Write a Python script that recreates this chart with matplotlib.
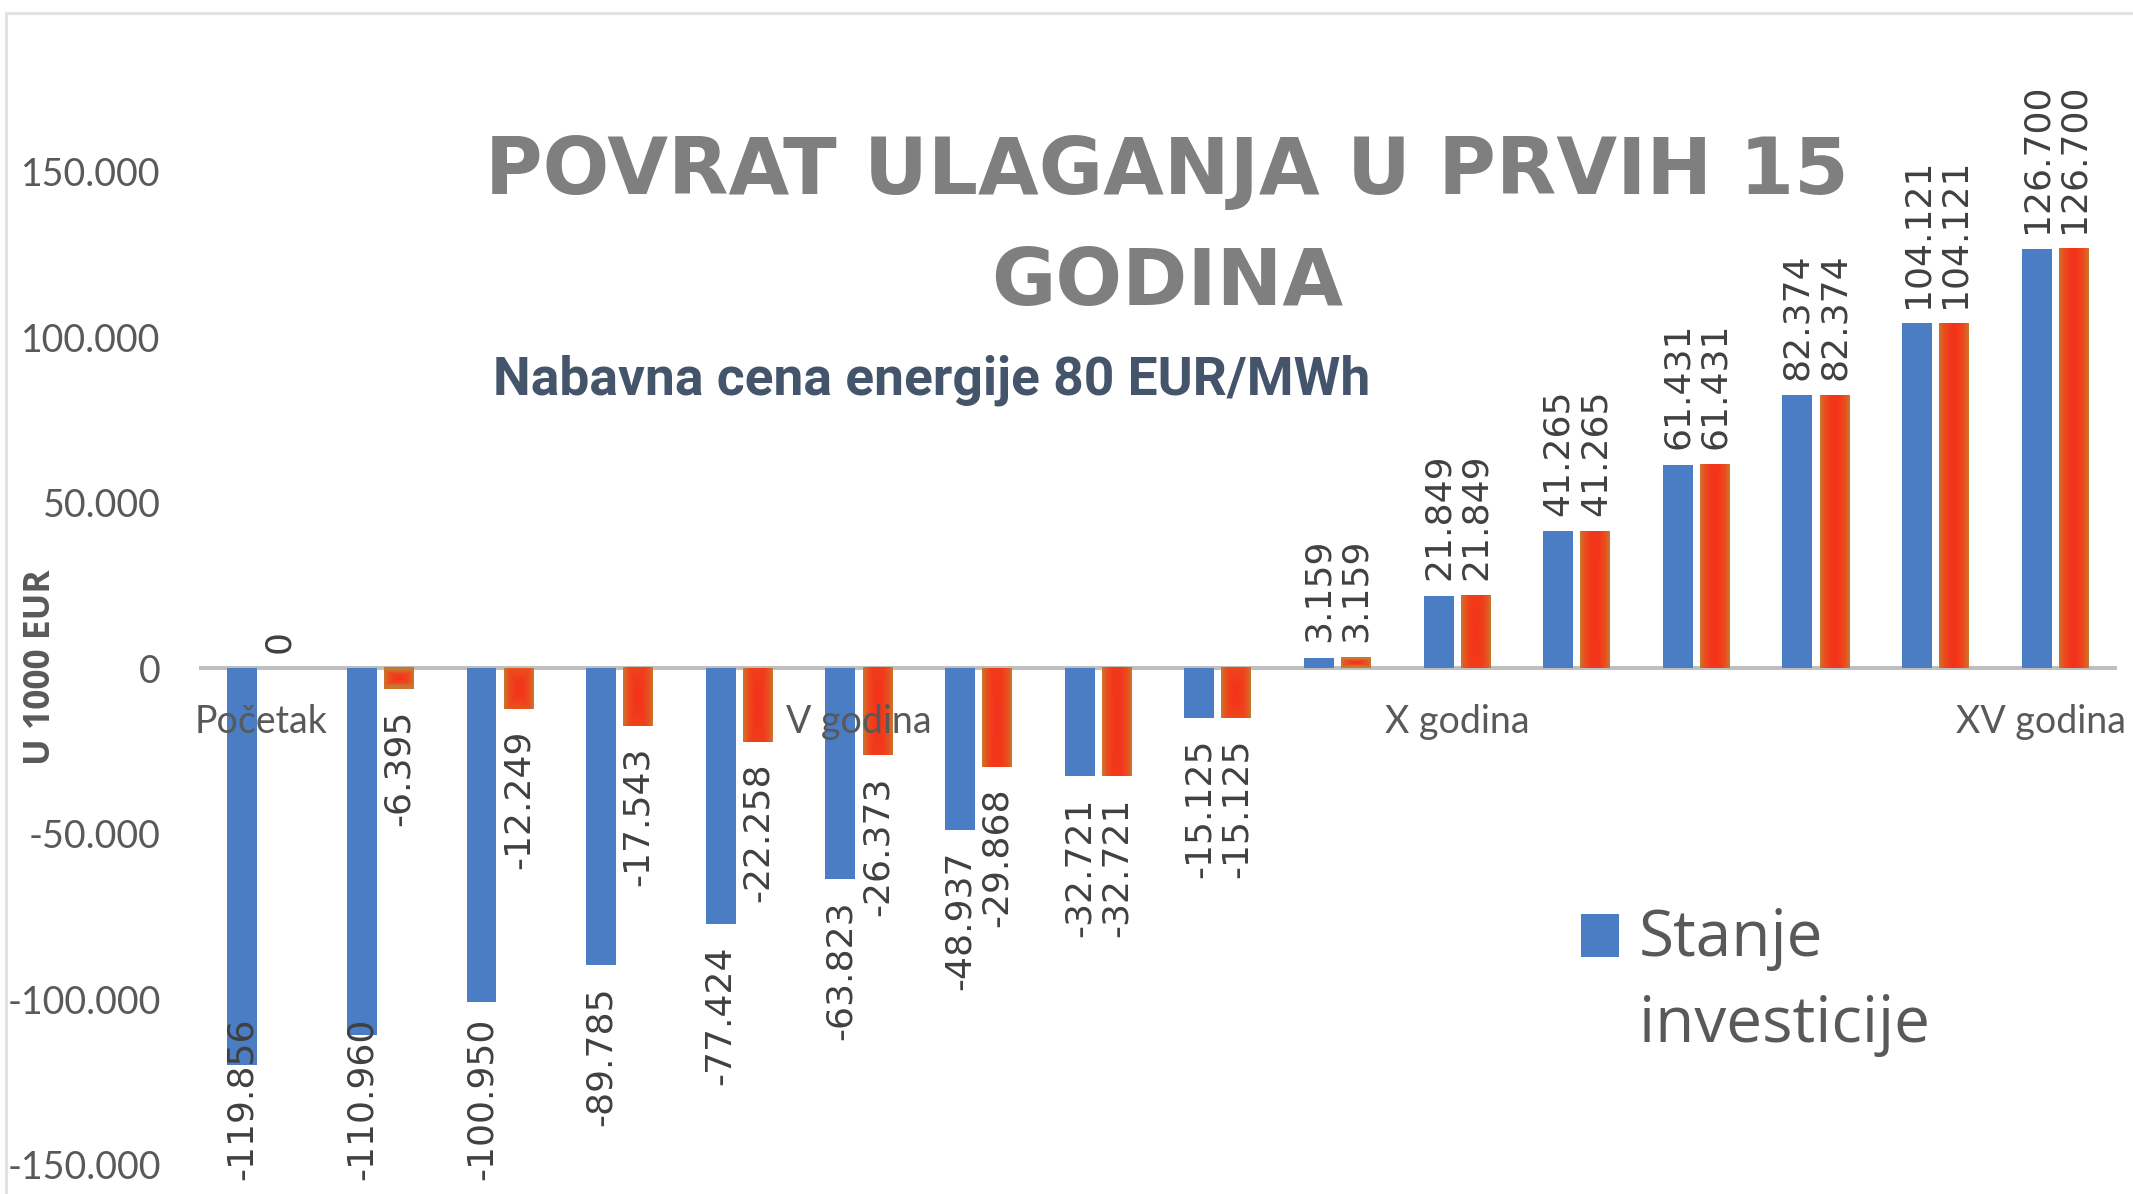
import numpy as np
import matplotlib
matplotlib.use("Agg")
import matplotlib.pyplot as plt
import matplotlib.patches as mpatches
from matplotlib.colors import LinearSegmentedColormap
from matplotlib.container import BarContainer
from matplotlib.legend_handler import HandlerPatch, update_from_first_child
from matplotlib.transforms import ScaledTranslation

# podaci (vrednosti u EUR, prikaz u hiljadama sa tackom)
kategorije = ["Početak", "I godina", "II godina", "III godina", "IV godina", "V godina",
              "VI godina", "VII godina", "VIII godina", "IX godina", "X godina",
              "XI godina", "XII godina", "XIII godina", "XIV godina", "XV godina"]
stanje_investicije = [-119856, -110960, -100950, -89785, -77424, -63823, -48937, -32721,
                      -15125, 3159, 21849, 41265, 61431, 82374, 104121, 126700]
druga_serija = [0, -6395, -12249, -17543, -22258, -26373, -29868, -32721,
                -15125, 3159, 21849, 41265, 61431, 82374, 104121, 126700]
y_tikovi = [-150000, -100000, -50000, 0, 50000, 100000, 150000]

NARROW = "Lato"
GRAY = "#595959"
BLUE = "#4A7DC3"


def fmt(v):
    return f"{v:,.0f}".replace(",", ".")


fig = plt.figure(figsize=(21.33, 11.94), dpi=100)
ax = fig.add_axes([0.0942, 0.0, 0.8974, 1.0])
ax.set_axisbelow(False)

x = np.arange(len(kategorije))
w = 0.25
blue = ax.bar(x - 0.155, stanje_investicije, w, color=BLUE, zorder=2)
orange = ax.bar(x + 0.155, druga_serija, w, color="#E5501E", zorder=2)

# gradijent za narandzaste stubice
cmap = LinearSegmentedColormap.from_list("og", ["#F3331B", "#EC4B1D", "#C9772F"])
gx = np.linspace(-1, 1, 60)
gy = np.linspace(-1, 1, 200)
GX, GY = np.meshgrid(gx, gy)
for b in orange:
    if b.get_height() == 0:
        continue
    x0, y0 = b.get_x(), b.get_y()
    x1, y1 = x0 + b.get_width(), y0 + b.get_height()
    hpx = abs(b.get_height()) / 50000 * 165.5
    grad = np.maximum(np.abs(GX), np.abs(GY) * np.clip(30.0 / max(hpx, 1), 0, 1.6)) ** 1.6
    ax.imshow(grad, extent=(x0, x1, min(y0, y1), max(y0, y1)), aspect="auto",
              cmap=cmap, vmin=0, vmax=1, zorder=2.1, interpolation="bilinear")

ax.set_xlim(-0.5, 15.5)
ax.set_ylim(-158912, 201813)

# osa
for s in ["left", "right", "top"]:
    ax.spines[s].set_visible(False)
ax.spines["bottom"].set_position(("data", 0))
ax.spines["bottom"].set_color("#BFBFBF")
ax.spines["bottom"].set_linewidth(2.9)
ax.spines["bottom"].set_zorder(1.5)

ax.set_xticks([0, 5, 10, 15])
ax.set_xticklabels([kategorije[i] for i in [0, 5, 10, 15]], family=NARROW, fontsize=27, color=GRAY)
ax.set_yticks(y_tikovi)
ax.set_yticklabels([fmt(v) for v in y_tikovi], family=NARROW, fontsize=27, color=GRAY)
ax.tick_params(axis="x", length=0, pad=26)
ax.tick_params(axis="y", length=0, pad=29)

# oznake vrednosti
blue_labels = []
for bars, vals in [(blue, stanje_investicije), (orange, druga_serija)]:
    for b, v in zip(bars, vals):
        cx = b.get_x() + b.get_width() / 2
        if v >= 0:
            a = ax.annotate(fmt(v), (cx, v), xytext=(0, 11), textcoords="offset points",
                            rotation=90, ha="center", va="bottom", fontsize=26,
                            color="#404040", family="DejaVu Sans")
        else:
            a = ax.annotate(fmt(v), (cx, v), xytext=(0, -15), textcoords="offset points",
                            rotation=90, ha="center", va="top", fontsize=26,
                            color="#404040", family="DejaVu Sans")
            blue_labels.append(a)

# naslov i podnaslov
fig.text(0.547, 1 - 194 / 1194, "POVRAT ULAGANJA U PRVIH 15", ha="center", va="baseline",
         fontsize=56.5, fontweight="bold", color="#7F7F7F", family="DejaVu Sans")
fig.text(0.547, 1 - 305 / 1194, "GODINA", ha="center", va="baseline",
         fontsize=56.5, fontweight="bold", color="#7F7F7F", family="DejaVu Sans")
fig.text(0.437, 1 - 395 / 1194, "Nabavna cena energije 80 EUR/MWh", ha="center", va="baseline",
         fontsize=38.4, fontweight="bold", color="#44546A", family="Roboto")
fig.text(0.0192, 0.4414, "U 1000 EUR", rotation=90, ha="center", va="center",
         fontsize=25.5, fontweight="bold", color=GRAY, family="Open Sans")


def top_square(legend, orig_handle, xdescent, ydescent, width, height, fontsize):
    return mpatches.Rectangle((-xdescent, -ydescent + 0.755 * fontsize), width, height)


leg = ax.legend([blue], ["Stanje\ninvesticije"], loc="upper left",
                bbox_to_anchor=(1581 / 2133, 1 - 907 / 1194), bbox_transform=fig.transFigure,
                frameon=False, borderpad=0, borderaxespad=0, handlelength=0.6,
                handleheight=0.65, handletextpad=0.3,
                prop={"family": "Open Sans", "size": 46},
                handler_map={BarContainer: HandlerPatch(patch_func=top_square,
                                                        update_func=update_from_first_child)})
for t in leg.get_texts():
    t.set_color(GRAY)
    t.set_linespacing(1.44)

# okvir
fig.patches.append(mpatches.Rectangle((6 / 2133, -0.1), 1.2, 1.1 - 13 / 1194, transform=fig.transFigure,
                                      fill=False, ec="#E2E2E2", lw=2.2))

# poslednja kategorija se pomera ulevo da stane u sliku
last = ax.get_xticklabels()[-1]
last.set_transform(last.get_transform() + ScaledTranslation(-14 / 100, 0, fig.dpi_scale_trans))

# pomeri oznake koje izlaze ispod slike
fig.canvas.draw()
r = fig.canvas.get_renderer()
for a in blue_labels:
    bb = a.get_window_extent(r)
    if bb.y0 < 14:
        shift = (14 - bb.y0) * 72 / fig.dpi
        a.xyann = (0, a.xyann[1] + shift)

fig.savefig("out.png", dpi=100)
